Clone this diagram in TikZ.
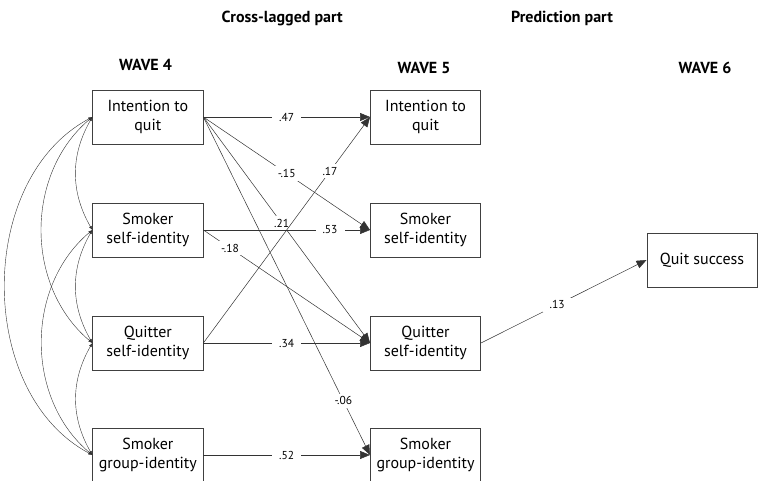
\documentclass[tikz,border=0pt]{standalone}
\usepackage{fontspec}
\setmainfont{PT Sans}
\usetikzlibrary{arrows.meta}

\begin{document}
\begin{tikzpicture}[
		var/.style={draw=black!75, line width=0.6pt, minimum width=3.88cm, minimum height=1.9cm, inner sep=0pt, align=center, font=\fontsize{16}{18.5}\selectfont},
		head/.style={anchor=base, font=\fontsize{16}{19}\selectfont\bfseries},
		eff/.style={draw=black!80, line width=0.5pt, -{Triangle[length=10pt,width=8pt]}},
		cov/.style={draw=black!80, line width=0.4pt, {Latex[length=4pt,width=3pt]}-{Latex[length=4pt,width=3pt]}},
		coef/.style={fill=white, inner xsep=7pt, inner ysep=3pt, font=\fontsize{11.5}{13}\selectfont}
	]

		\useasboundingbox (0,0) rectangle (26.676,16.905);

		% titres
		\node[head] (cross) at (9.92,16.13) {Cross-lagged part};
		\node[head] (pred) at (19.752,16.13) {Prediction part};
		\node[head] (w4) at (5.114,14.41) {WAVE 4};
		\node[head] (w5) at (14.902,14.31) {WAVE 5};
		\node[head] (w6) at (24.778,14.31) {WAVE 6};

		% vague 4
		\node[var] (I4) at (5.197,12.793) {Intention to\\ quit};
		\node[var] (S4) at (5.197,8.822) {Smoker\\ self-identity};
		\node[var] (Q4) at (5.197,4.850) {Quitter\\ self-identity};
		\node[var] (G4) at (5.197,0.914) {Smoker\\ group-identity};

		% vague 5
		\node[var] (I5) at (14.955,12.793) {Intention to\\ quit};
		\node[var] (S5) at (14.955,8.822) {Smoker\\ self-identity};
		\node[var] (Q5) at (14.955,4.850) {Quitter\\ self-identity};
		\node[var] (G5) at (14.955,0.914) {Smoker\\ group-identity};

		% vague 6
		\node[var] (QS) at (24.673,7.767) {Quit success};

		% covariances
		\draw[cov] (I4.west) to[bend right=30] (S4.west);
		\draw[cov] (S4.west) to[bend right=30] (Q4.west);
		\draw[cov] (Q4.west) to[bend right=30] (G4.west);
		\draw[cov] (I4.west) to[bend right=50] (Q4.west);
		\draw[cov] (S4.west) to[bend right=50] (G4.west);
		\draw[cov] (I4.west) to[bend right=62] (G4.west);

		% effets croises
		\draw[eff] (I4.east) -- node[coef] {.47} (I5.west);
		\draw[eff] (I4.east) -- node[coef] {-.15} (S5.west);
		\draw[eff] (I4.east) -- node[coef, pos=0.47] {.21} (Q5.west);
		\draw[eff] (I4.east) -- node[coef, pos=0.84] {-.06} (G5.west);
		\draw[eff] (S4.east) -- node[coef, pos=0.76] {.53} (S5.west);
		\draw[eff] (S4.east) -- node[coef, pos=0.16] {-.18} (Q5.west);
		\draw[eff] (Q4.east) -- node[coef, pos=0.76] {.17} (I5.west);
		\draw[eff] (Q4.east) -- node[coef] {.34} (Q5.west);
		\draw[eff] (G4.east) -- node[coef] {.52} (G5.west);

		% prediction
		\draw[eff] (Q5.east) -- node[coef, pos=0.46] {.13} (QS.west);

	\end{tikzpicture}
\end{document}
